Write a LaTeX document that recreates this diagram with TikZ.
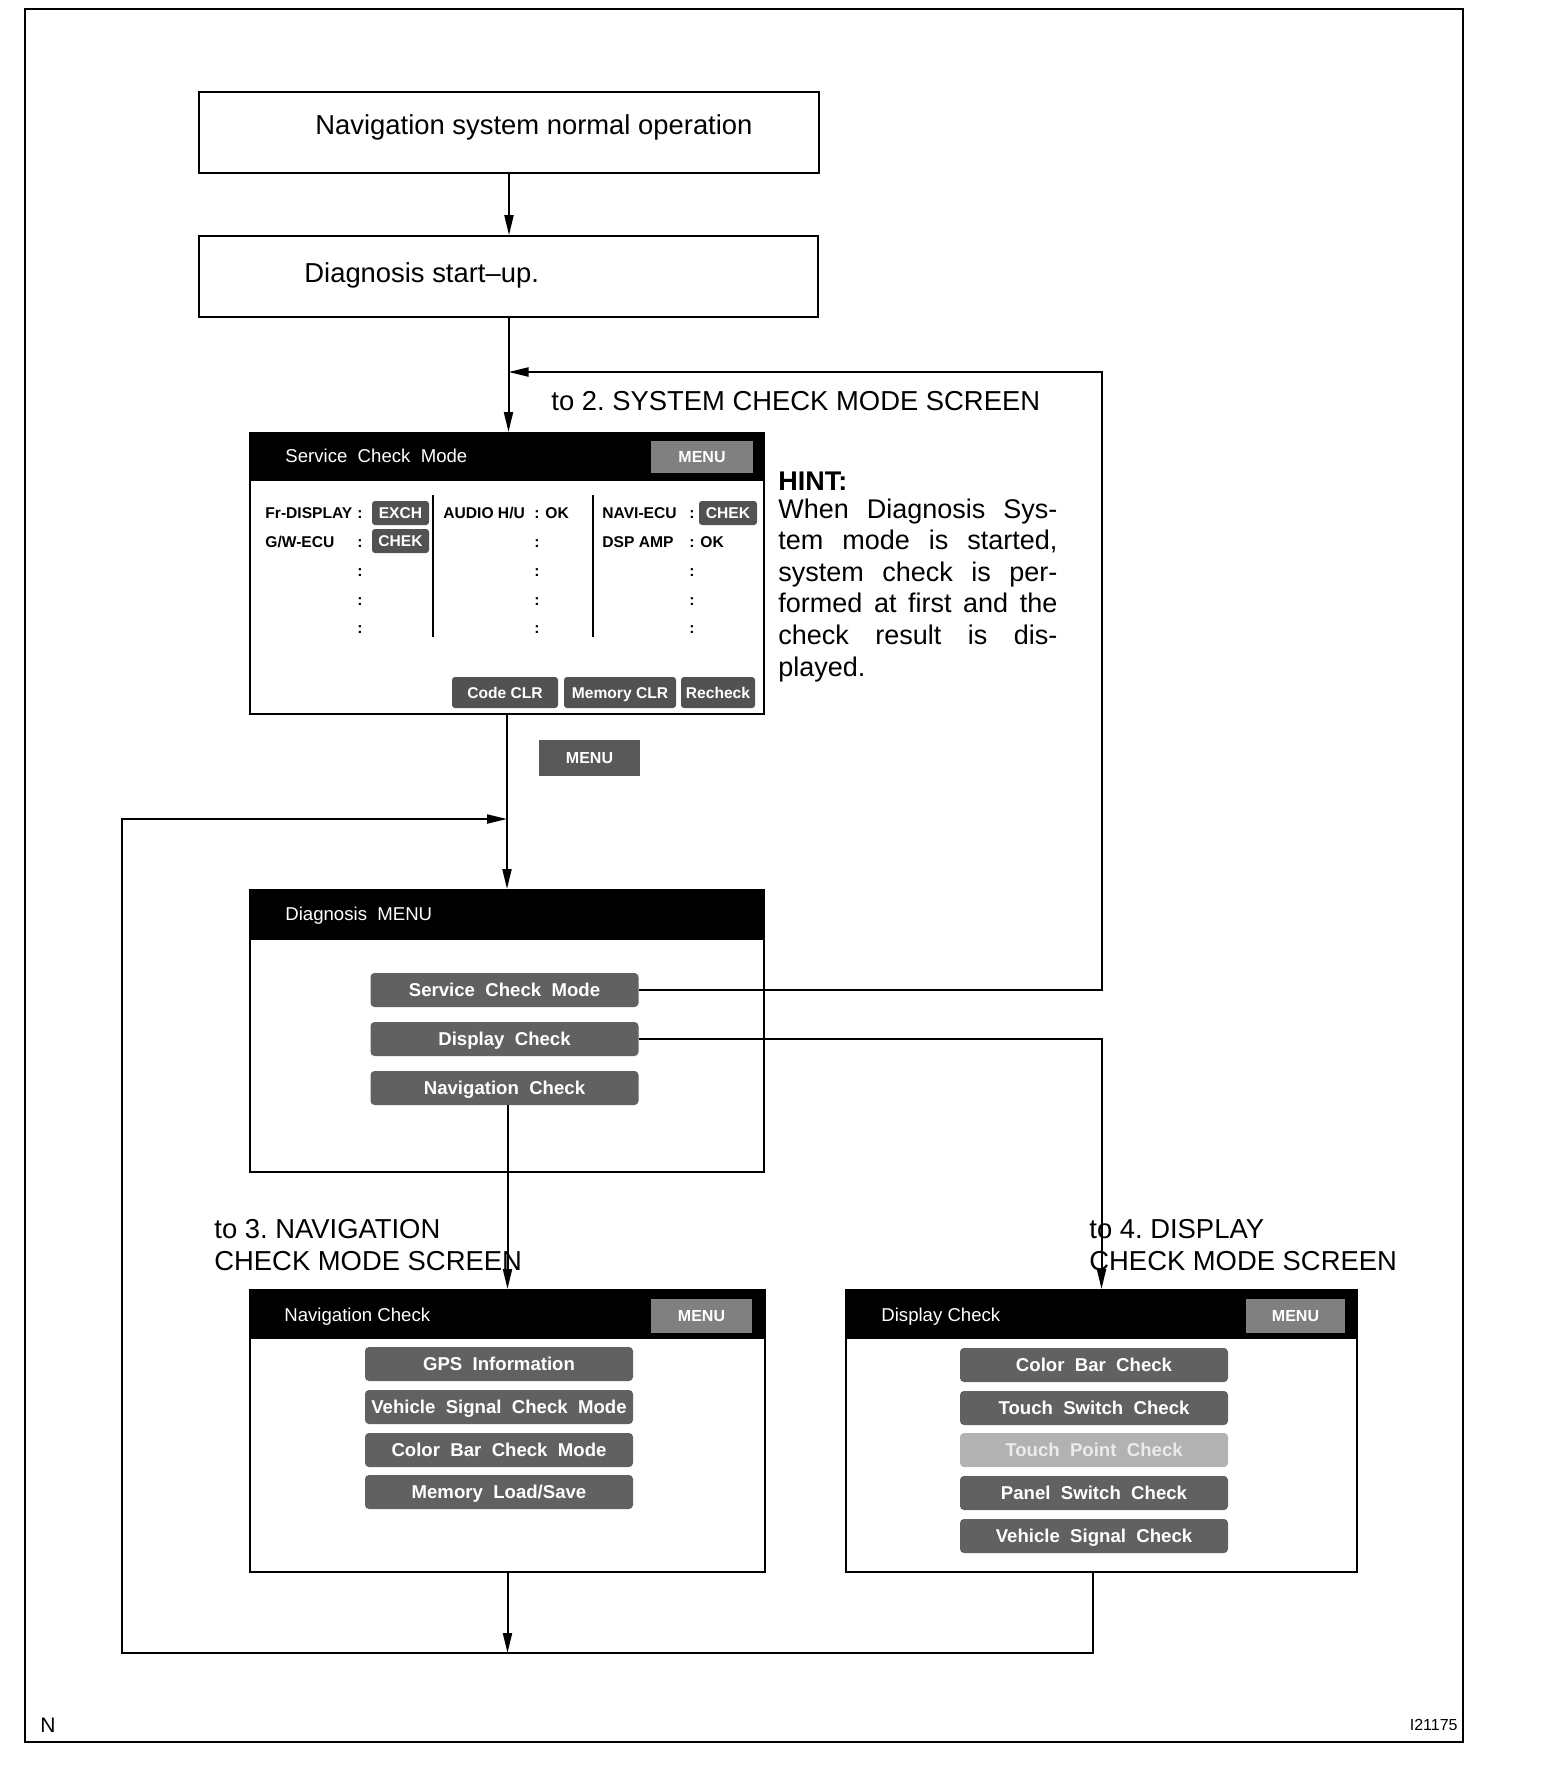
\documentclass[tikz,border=0pt]{standalone}
\usepackage{fontspec}
\setmainfont{Liberation Sans}
\usetikzlibrary{arrows.meta}
\frenchspacing

\tikzset{
  flowbox/.style={draw, line width=0.8pt, inner sep=0pt},
  screen/.style={draw, line width=1pt, fill=white, inner sep=0pt},
  titlebar/.style={fill=black, inner sep=0pt, anchor=north},
  bigtext/.style={font=\fontsize{13.7}{16}\selectfont, inner sep=0pt, text height=9.8pt, text depth=0pt, anchor=west},
  scrtitle/.style={font=\fontsize{9.3}{11}\selectfont, text=white, inner sep=0pt, text height=6.7pt, text depth=0pt, anchor=west},
  scrtxt/.style={font=\fontsize{7.8}{9}\selectfont\bfseries, inner sep=0pt, text height=5.6pt, text depth=0pt, anchor=west},
  btn/.style={fill=black!62, rounded corners=2pt, inner sep=0pt, text=white, font=\fontsize{9.3}{10}\selectfont\bfseries, text height=6.7pt, text depth=0pt, minimum width=134pt, minimum height=17pt},
  menubtn/.style={fill=black!50, inner sep=0pt, text=white, font=\fontsize{8}{9}\selectfont\bfseries, text height=5.8pt, text depth=0pt, minimum width=50.5pt, minimum height=17pt},
  keybtn/.style={fill=black!68, rounded corners=1.5pt, inner sep=0pt, text=white, font=\fontsize{7.8}{9}\selectfont\bfseries, text height=5.6pt, text depth=0pt, minimum height=12pt},
  arr/.style={-{Triangle[length=10pt,width=4.5pt]}, line width=1pt},
  divider/.style={line width=1.2pt}
}

\begin{document}
\begin{tikzpicture}[x=1pt, y=-1pt]

    \fill[white] (0,0) rectangle (784,887);
    \useasboundingbox (0,0) rectangle (784,887);
    \draw[line width=1.4pt] (12.5,4.5) rectangle (731.5,871);

    \node[flowbox, minimum width=310pt, minimum height=40.5pt] (normal) at (254.5,66.25) {};
    \node[bigtext] (normaltext) at (157.5,62.5) {Navigation system normal operation};
    \node[flowbox, minimum width=309.5pt, minimum height=40.5pt] (startup) at (254.25,138.25) {};
    \node[bigtext] (startuptext) at (152,136.5) {Diagnosis start--up.};

    \node[bigtext] (to2) at (275.5,200.5) {to 2. SYSTEM CHECK MODE SCREEN};

    % service check mode screen
    \node[screen, minimum width=257pt, minimum height=140.5pt] (scm) at (253.5,286.75) {};
    \node[titlebar, minimum width=258pt, minimum height=24.5pt] (scmbar) at (scm.north) {};
    \node[scrtitle] (scmtitle) at (142.5,228) {Service~~Check~~Mode};
    \node[menubtn, minimum width=51pt, minimum height=16pt] (scmmenu) at (351,228.5) {MENU};

    \node[scrtxt] (frdisp) at (132.5,256.5) {Fr-DISPLAY};
    \node[scrtxt] (gwecu) at (132.5,271) {G/W-ECU};
    \node[scrtxt] (audio) at (221.5,256.5) {AUDIO H/U};
    \node[scrtxt] (naviecu) at (301,256.5) {NAVI-ECU};
    \node[scrtxt] (dspamp) at (301,271) {DSP AMP};
    \foreach \cx [count=\i] in {180,268.5,346}
      \foreach \ry [count=\j] in {256.5,271,285.5,300,314}
        \node[scrtxt, anchor=center] (colon\i\j) at (\cx,\ry) {:};
    \node[scrtxt] (audiook) at (272.5,256.5) {OK};
    \node[scrtxt] (dspok) at (350,271) {OK};
    \node[keybtn, minimum width=28.5pt] (frexch) at (200.25,256.5) {EXCH};
    \node[keybtn, minimum width=28.5pt] (gwchek) at (200.25,270.5) {CHEK};
    \node[keybtn, minimum width=29pt] (navichek) at (364,256.5) {CHEK};
    \draw[divider] (216.5,247.5) -- (216.5,318.5);
    \draw[divider] (296.5,247.5) -- (296.5,318.5);
    \node[keybtn, minimum width=53pt, minimum height=15.5pt] (codeclr) at (252.5,346.25) {Code CLR};
    \node[keybtn, minimum width=56pt, minimum height=15.5pt] (memclr) at (310,346.25) {Memory CLR};
    \node[keybtn, minimum width=37pt, minimum height=15.5pt] (recheck) at (359,346.25) {Recheck};

    \node[anchor=north west, inner sep=0pt, font=\fontsize{13.5}{15.8}\selectfont] (hint) at (389,235.6)
      {\parbox[t]{139.5pt}{\tolerance=9999\textbf{HINT:}\par\vspace{-1.8pt}When Diagnosis Sys-\linebreak tem mode is started,\linebreak system check is per-\linebreak formed at first and the\linebreak check result is dis-\linebreak played.}};

    \node[menubtn, fill=black!65, minimum height=18pt] (menukey) at (294.75,379) {MENU};

    % diagnosis menu screen
    \node[screen, minimum width=257pt, minimum height=141pt] (dmenu) at (253.5,515.5) {};
    \node[titlebar, minimum width=258pt, minimum height=25.5pt] (dmenubar) at (dmenu.north) {};
    \node[scrtitle] (dmenutitle) at (142.5,457) {Diagnosis~~MENU};
    \node[btn] (btnscm) at (252.25,495) {Service~~Check~~Mode};
    \node[btn] (btndisp) at (252.25,519.5) {Display~~Check};
    \node[btn] (btnnav) at (252.25,544) {Navigation~~Check};

    \node[bigtext] (to3a) at (107,614.5) {to 3. NAVIGATION};
    \node[bigtext] (to3b) at (107,630.5) {CHECK MODE SCREEN};
    \node[bigtext] (to4a) at (544.5,614.5) {to 4. DISPLAY};
    \node[bigtext] (to4b) at (544.5,630.5) {CHECK MODE SCREEN};

    % navigation check screen
    \node[screen, minimum width=257.5pt, minimum height=141pt] (nchk) at (253.75,715.5) {};
    \node[titlebar, minimum width=258.5pt, minimum height=25pt] (nchkbar) at (nchk.north) {};
    \node[scrtitle] (nchktitle) at (142,657.5) {Navigation Check};
    \node[menubtn] (nchkmenu) at (350.75,658) {MENU};
    \node[btn] (gps) at (249.5,682) {GPS~~Information};
    \node[btn] (vscm) at (249.5,703.5) {Vehicle~~Signal~~Check~~Mode};
    \node[btn] (cbcm) at (249.5,725) {Color~~Bar~~Check~~Mode};
    \node[btn] (memls) at (249.5,746) {Memory~~Load/Save};

    % display check screen
    \node[screen, minimum width=255.5pt, minimum height=141pt] (dchk) at (550.75,715.5) {};
    \node[titlebar, minimum width=256.5pt, minimum height=25pt] (dchkbar) at (dchk.north) {};
    \node[scrtitle] (dchktitle) at (440.5,657.5) {Display Check};
    \node[menubtn, minimum width=49.5pt] (dchkmenu) at (647.75,658) {MENU};
    \node[btn] (cbc) at (547,682.5) {Color~~Bar~~Check};
    \node[btn] (tsc) at (547,704) {Touch~~Switch~~Check};
    \node[btn, fill=black!30, text=black!8] (tpc) at (547,725) {Touch~~Point~~Check};
    \node[btn] (psc) at (547,746.5) {Panel~~Switch~~Check};
    \node[btn] (vsc) at (547,768) {Vehicle~~Signal~~Check};

    \node[font=\fontsize{10.5}{12}\selectfont, inner sep=0pt, anchor=west] (corner) at (20,862.5) {N};
    \node[font=\fontsize{8}{9}\selectfont, inner sep=0pt, anchor=east] (figid) at (729,862.5) {I21175};

    \coordinate (loopup) at (550.75,186);
    \coordinate (loopdown) at (61,826.5);
    \coordinate (loopleft) at (61,409.5);

    \draw[arr] (normal.south) -- (normal.south |- startup.north);
    \draw[arr] (startup.south) -- (startup.south |- scm.north);
    \draw[arr] (btnscm.east) -| (loopup) -- (startup.south |- loopup);
    \draw[arr] (scm.south) -- (scm.south |- dmenu.north);
    \draw[arr] (btndisp.east) -| (dchk.north);
    \draw[arr] (nchk.north |- btnnav.south) -- (nchk.north);
    \draw[arr] (nchk.south) -- (nchk.south |- loopdown);
    \draw[arr] ([xshift=-4.25pt]dchk.south) |- (loopdown) -- (loopleft) -- (scm.south |- loopleft);

\end{tikzpicture}
\end{document}
